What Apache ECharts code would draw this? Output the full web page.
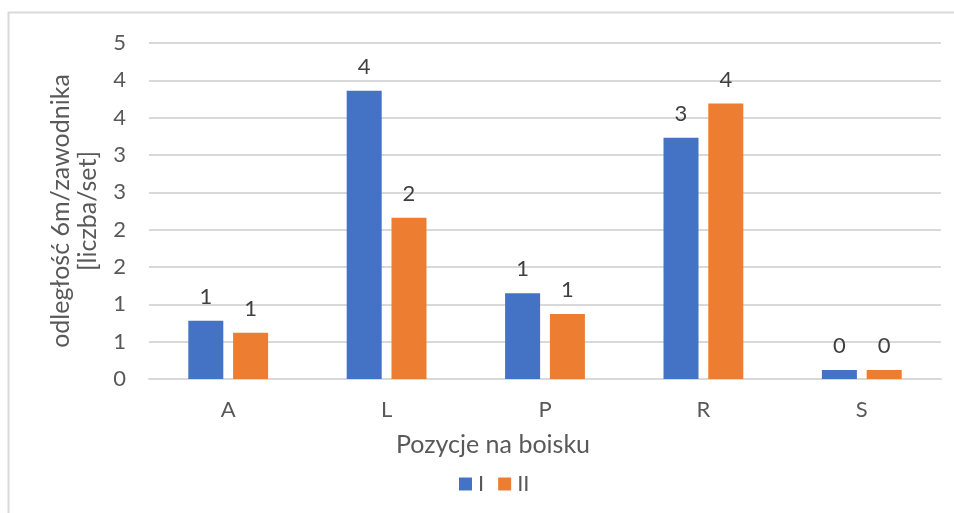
<!DOCTYPE html>
<html>
<head>
<meta charset="utf-8">
<script src="https://cdn.jsdelivr.net/npm/echarts@6/dist/echarts.min.js"></script>
<style>
  html, body { margin: 0; padding: 0; background: #ffffff; }
  #chart { width: 954px; height: 513px; }
</style>
</head>
<body>
<div id="chart"></div>
<script>
// Positions on the court
const categories = ['A', 'L', 'P', 'R', 'S'];
// Series values (count per set)
const seriesNames = ['I', 'II'];
const valuesI = [0.78, 3.86, 1.15, 3.23, 0.12];
const valuesII = [0.62, 2.16, 0.87, 3.69, 0.12];

const FONT = 'Lato';
const chart = echarts.init(document.getElementById('chart'), null, { renderer: 'canvas' });

const labelStyle = {
  show: true,
  position: 'top',
  distance: 13,
  color: '#404040',
  fontFamily: FONT,
  fontSize: 22,
  formatter: p => String(Math.round(p.value))
};

chart.setOption({
  backgroundColor: '#ffffff',
  animation: false,
  graphic: [{
    type: 'rect',
    shape: { x: 8.5, y: 12.5, width: 1000, height: 600 },
    style: { fill: 'none', stroke: '#d9d9d9', lineWidth: 2 },
    silent: true,
    z: -1
  }],
  grid: { left: 149, right: 13, top: 43, bottom: 134 },
  legend: {
    left: 454,
    top: 468,
    itemWidth: 13,
    itemHeight: 13,
    itemGap: 14,
    icon: 'rect',
    data: seriesNames,
    textStyle: { color: '#595959', fontFamily: FONT, fontSize: 22, padding: [0, 0, 0, 1] }
  },
  xAxis: {
    type: 'category',
    data: categories,
    name: 'Pozycje na boisku',
    nameLocation: 'middle',
    nameGap: 53,
    // the title sits centred on the whole chart area, left of the plot centre
    nameTextStyle: { color: '#595959', fontFamily: FONT, fontSize: 25, padding: [0, 104, 0, 0] },
    axisLine: { lineStyle: { color: '#d9d9d9', width: 2 } },
    axisTick: { show: false },
    axisLabel: { color: '#595959', fontFamily: FONT, fontSize: 22, margin: 20 }
  },
  yAxis: {
    type: 'value',
    min: 0,
    max: 4.5,
    interval: 0.5,
    name: 'odległość 6m/zawodnika\n[liczba/set]',
    nameLocation: 'middle',
    nameRotate: 90,
    nameGap: 48,
    nameTextStyle: { color: '#595959', fontFamily: FONT, fontSize: 25, lineHeight: 27, align: 'center' },
    axisLine: { show: false },
    axisTick: { show: false },
    splitLine: { lineStyle: { color: '#d9d9d9', width: 2 } },
    axisLabel: {
      color: '#595959', fontFamily: FONT, fontSize: 22, margin: 23,
      formatter: v => String(Math.round(v))
    }
  },
  series: [
    {
      name: seriesNames[0],
      type: 'bar',
      data: valuesI,
      barWidth: 35,
      barGap: '28%',
      itemStyle: { color: '#4472C4' },
      label: labelStyle
    },
    {
      name: seriesNames[1],
      type: 'bar',
      data: valuesII,
      barWidth: 35,
      itemStyle: { color: '#ED7D31' },
      label: labelStyle
    }
  ]
});
</script>
</body>
</html>
